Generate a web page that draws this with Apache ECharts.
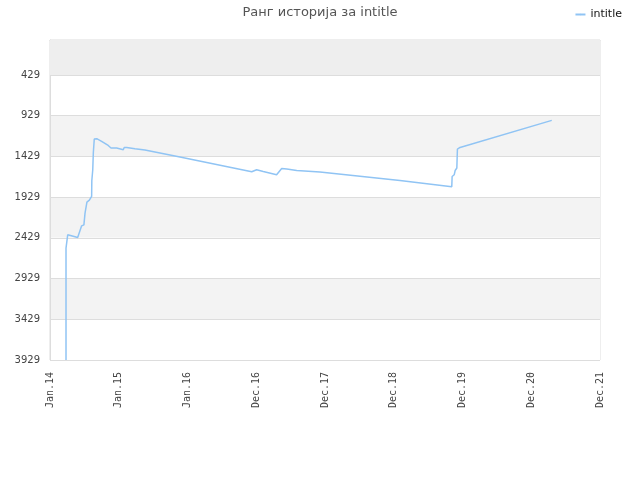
<!DOCTYPE html>
<html>
<head>
<meta charset="utf-8">
<script src="https://cdn.jsdelivr.net/npm/echarts@6/dist/echarts.min.js"></script>
<style>
  html, body { margin: 0; padding: 0; background: #fff; }
  #chart { width: 640px; height: 480px; }
</style>
</head>
<body>
<div id="chart"></div>
<script>
// 排名历史数据 (日期, 排名)
var dates = [
    '2014-03-27', '2014-03-27', '2014-04-05', '2014-04-12', '2014-05-28', '2014-06-09',
    '2014-06-18', '2014-06-30', '2014-07-06', '2014-07-16', '2014-07-29', '2014-08-07',
    '2014-08-10', '2014-08-11', '2014-08-16', '2014-08-19', '2014-08-24', '2014-09-06',
    '2014-10-02', '2014-11-06', '2014-11-21', '2014-11-28', '2014-12-21', '2015-01-25',
    '2015-01-30', '2015-02-12', '2015-03-28', '2015-05-20', '2015-11-22', '2016-12-07',
    '2017-01-02', '2017-02-06', '2017-04-18', '2017-05-15', '2017-06-11', '2017-08-03',
    '2017-12-04', '2019-02-02', '2019-11-04', '2019-11-06', '2019-11-17', '2019-11-22',
    '2019-12-01', '2019-12-04', '2019-12-18', '2021-04-18'
];
var ranks = [
    3929, 2556, 2392, 2384, 2426, 2343,
    2282, 2270, 2126, 1990, 1966, 1974,
    1921, 1728, 1593, 1388, 1216, 1212,
    1245, 1295, 1326, 1310, 1326, 1347,
    1319, 1319, 1335, 1351, 1437, 1618,
    1593, 1614, 1655, 1577, 1585, 1602,
    1622, 1725, 1802, 1676, 1655, 1602,
    1572, 1339, 1319, 987
];
// y轴刻度
var yTicks = [429, 929, 1429, 1929, 2429, 2929, 3429, 3929];
var monthNames = ['Jan', 'Feb', 'Mar', 'Apr', 'May', 'Jun', 'Jul', 'Aug', 'Sep', 'Oct', 'Nov', 'Dec'];

var DAY = 86400000;
var xStart = Date.UTC(2014, 0, 1);
var xStep = 365 * DAY;

var seriesData = dates.map(function (d, i) {
    var p = d.split('-');
    return [Date.UTC(+p[0], +p[1] - 1, +p[2]), ranks[i]];
});

var chart = echarts.init(document.getElementById('chart'));

var option = {
    animation: false,
    title: {
        text: 'Ранг историја за intitle',
        left: 'center',
        top: 1,
        textStyle: { fontFamily: 'DejaVu Sans', fontSize: 13, fontWeight: 'normal', color: '#555' }
    },
    legend: {
        data: ['intitle'],
        right: 13,
        top: 4,
        itemWidth: 10,
        itemHeight: 2,
        itemGap: 6,
        textStyle: { fontFamily: 'DejaVu Sans', fontSize: 11, color: '#111' }
    },
    grid: {
        left: 50, right: 40, top: 40, bottom: 120,
        show: true, borderColor: '#ddd', borderWidth: 1,
        containLabel: false
    },
    xAxis: {
        type: 'value',
        min: xStart,
        max: xStart + 8 * xStep,
        interval: xStep,
        axisLine: { show: true, lineStyle: { color: '#ddd' } },
        axisTick: { show: false },
        splitLine: { show: false },
        axisLabel: {
            rotate: 90,
            margin: 12,
            fontFamily: 'DejaVu Sans Mono',
            fontSize: 10,
            color: '#444',
            formatter: function (v) {
                var d = new Date(v);
                var yy = String(d.getUTCFullYear()).slice(2);
                return monthNames[d.getUTCMonth()] + '.' + yy;
            }
        }
    },
    yAxis: {
        type: 'value',
        inverse: true,
        min: 0,
        max: 3929,
        axisLine: { show: true, lineStyle: { color: '#ddd' } },
        axisTick: { show: false, customValues: yTicks },
        axisLabel: {
            customValues: yTicks,
            fontFamily: 'DejaVu Sans',
            fontSize: 10,
            color: '#444',
            margin: 10,
            formatter: function (v) { return String(v); }
        },
        splitLine: { show: true, lineStyle: { color: '#ddd' } },
        splitArea: { show: true, areaStyle: { color: ['#ffffff', '#f3f3f3'] } }
    },
    series: [{
        name: 'intitle',
        type: 'line',
        data: seriesData,
        showSymbol: false,
        symbol: 'none',
        lineStyle: { width: 1.5, color: '#90c4f4' },
        itemStyle: { color: '#90c4f4' },
        markArea: {
            silent: true,
            itemStyle: { color: '#eeeeee' },
            data: [[{ yAxis: 0 }, { yAxis: 429 }]]
        }
    }]
};

chart.setOption(option);
</script>
</body>
</html>
